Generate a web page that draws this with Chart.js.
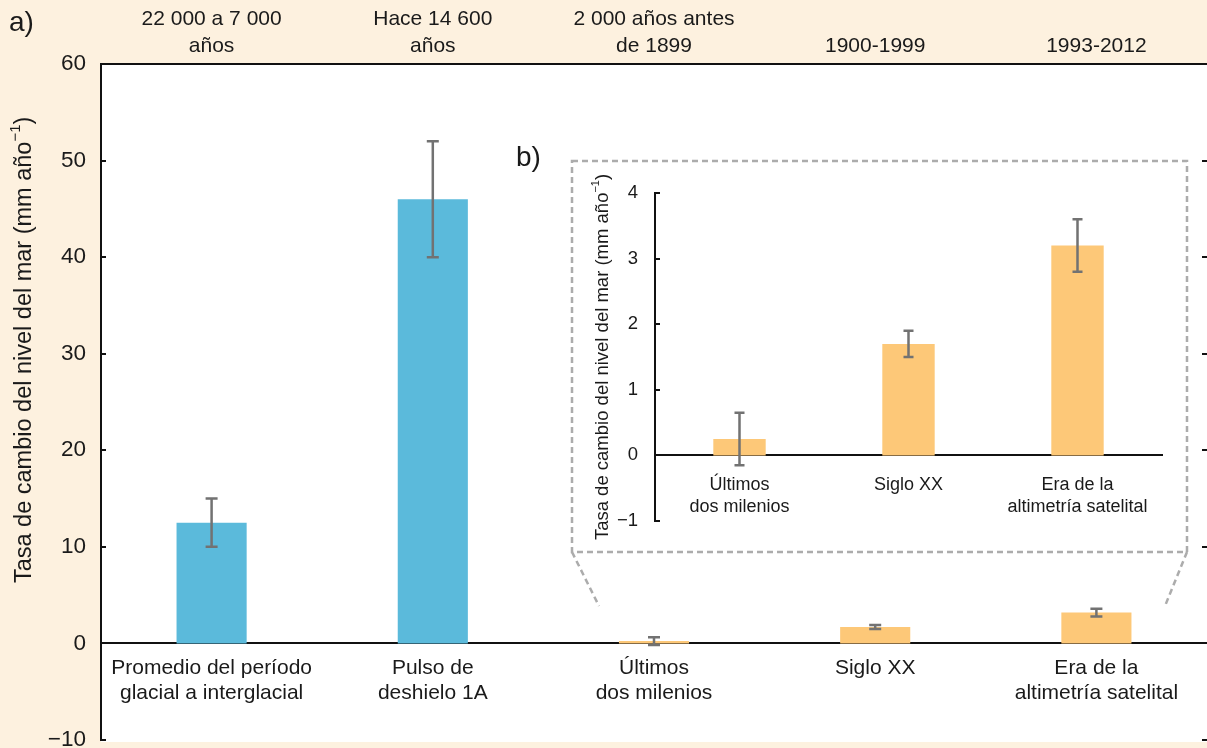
<!DOCTYPE html>
<html>
<head>
<meta charset="utf-8">
<script src="https://cdn.jsdelivr.net/npm/chart.js@4/dist/chart.umd.min.js"></script>
<style>
  html, body { margin: 0; padding: 0; background: #fdf1df; }
  #wrap { position: relative; width: 1207px; height: 748px; overflow: hidden; }
  canvas { position: absolute; }
</style>
</head>
<body>
<div id="wrap">
  <canvas id="main" width="1207" height="748" style="left:0;top:0"></canvas>
  <canvas id="inset"></canvas>
</div>
<script>
// data
const categories = [
  ['Promedio del período', 'glacial a interglacial'],
  ['Pulso de', 'deshielo 1A'],
  ['Últimos', 'dos milenios'],
  ['Siglo XX'],
  ['Era de la', 'altimetría satelital']
];
const periods = [
  ['22 000 a 7 000', 'años'],
  ['Hace 14 600', 'años'],
  ['2 000 años antes', 'de 1899'],
  ['1900-1999'],
  ['1993-2012']
];
const rates = [12.5, 46, 0.25, 1.7, 3.2];
const errLow = [10, 40, -0.15, 1.5, 2.8];
const errHigh = [15, 52, 0.65, 1.9, 3.6];
const barColors = ['#5bbadb', '#5bbadb', '#fdc878', '#fdc878', '#fdc878'];

const insetCategories = [['Últimos', 'dos milenios'], ['Siglo XX'], ['Era de la', 'altimetría satelital']];
const insetRates = [0.25, 1.7, 3.2];
const insetLow = [-0.15, 1.5, 2.8];
const insetHigh = [0.65, 1.9, 3.6];

const yTitle = 'Tasa de cambio del nivel del mar (mm año';
const ySup = '\u22121';

// inset box on the page
const INSET = { left: 571, top: 160, width: 617, height: 393 };

const FONT = '"Liberation Sans", Arial, Helvetica, sans-serif';
Chart.defaults.font.family = FONT;
Chart.defaults.color = '#1a1a1a';

const minus = v => String(v).replace('-', '\u2212');

function drawYTitle(ctx, x, cy, size) {
  ctx.save();
  ctx.translate(x, cy);
  ctx.rotate(-Math.PI / 2);
  ctx.fillStyle = '#1a1a1a';
  ctx.textBaseline = 'middle';
  ctx.textAlign = 'left';
  const big = size + 'px ' + FONT, small = Math.round(size * 0.62) + 'px ' + FONT;
  ctx.font = big;
  const w1 = ctx.measureText(yTitle).width, w3 = ctx.measureText(')').width;
  ctx.font = small;
  const w2 = ctx.measureText(ySup).width;
  let sx = -(w1 + w2 + w3) / 2;
  ctx.font = big;
  ctx.fillText(yTitle, sx, 0);
  ctx.font = small;
  ctx.fillText(ySup, sx + w1, -size * 0.38);
  ctx.font = big;
  ctx.fillText(')', sx + w1 + w2, 0);
  ctx.restore();
}

const whiteArea = {
  id: 'whiteArea',
  beforeDraw(chart, args, opts) {
    if (!opts.on) return;
    const a = chart.chartArea;
    chart.ctx.save();
    chart.ctx.fillStyle = '#ffffff';
    chart.ctx.fillRect(a.left, a.top, a.right - a.left, a.bottom - a.top + 2);
    chart.ctx.restore();
  }
};

const errorBars = {
  id: 'errorBars',
  afterDatasetsDraw(chart, args, opts) {
    const { ctx, scales: { x, y } } = chart;
    ctx.save();
    ctx.strokeStyle = '#727272';
    ctx.lineWidth = 2.5;
    opts.low.forEach((lo, i) => {
      const px = x.getPixelForValue(i);
      const y1 = y.getPixelForValue(lo), y2 = y.getPixelForValue(opts.high[i]);
      ctx.beginPath();
      ctx.moveTo(px, y1); ctx.lineTo(px, y2);
      ctx.moveTo(px - opts.cap, y1); ctx.lineTo(px + opts.cap, y1);
      ctx.moveTo(px - opts.cap, y2); ctx.lineTo(px + opts.cap, y2);
      ctx.stroke();
    });
    ctx.restore();
  }
};

const axisDeco = {
  id: 'axisDeco',
  afterDraw(chart, args, opts) {
    const { ctx, chartArea: a, scales: { y } } = chart;
    ctx.save();
    ctx.strokeStyle = '#111';
    ctx.lineWidth = 2;
    y.ticks.forEach(t => {
      const py = Math.round(y.getPixelForValue(t.value));
      ctx.beginPath();
      ctx.moveTo(a.left, py); ctx.lineTo(a.left + opts.len, py);
      if (opts.right) { ctx.moveTo(a.right - opts.len, py); ctx.lineTo(a.right, py); }
      ctx.stroke();
    });
    ctx.restore();
    const cy = opts.titleValue == null ? (a.top + a.bottom) / 2 : y.getPixelForValue(opts.titleValue);
    drawYTitle(ctx, opts.titleX, cy, opts.titleSize);
  }
};

const panelDeco = {
  id: 'panelDeco',
  afterDraw(chart) {
    const ctx = chart.ctx;
    ctx.save();
    ctx.fillStyle = '#1a1a1a';
    ctx.font = '28px ' + FONT;
    ctx.textBaseline = 'middle';
    ctx.fillText('a)', 9, 23);
    ctx.fillText('b)', 516, 158);
    // dashed inset frame and its pointers
    ctx.strokeStyle = '#acacac';
    ctx.lineWidth = 2.5;
    ctx.setLineDash([6, 4]);
    const l = INSET.left + 1, t = INSET.top + 1, r = INSET.left + INSET.width - 1, b = INSET.top + INSET.height - 1;
    ctx.strokeRect(l, t, r - l, b - t);
    ctx.beginPath();
    ctx.moveTo(l, b); ctx.lineTo(l + 27, b + 54);
    ctx.moveTo(r, b); ctx.lineTo(r - 22, b + 54);
    ctx.stroke();
    ctx.restore();
  }
};

new Chart(document.getElementById('main'), {
  type: 'bar',
  data: {
    labels: categories,
    datasets: [{ data: rates, backgroundColor: barColors, barPercentage: 0.317, categoryPercentage: 1 }]
  },
  options: {
    responsive: false,
    animation: false,
    devicePixelRatio: 1,
    layout: { padding: { top: 0, left: 0, right: 0, bottom: 8 } },
    plugins: {
      legend: { display: false },
      tooltip: { enabled: false },
      whiteArea: { on: true },
      errorBars: { low: errLow, high: errHigh, cap: 6 },
      axisDeco: { len: 5, right: true, titleX: 25, titleValue: 30.4, titleSize: 23.5 }
    },
    scales: {
      x: {
        position: { y: 0 },
        offset: true,
        grid: { display: false },
        border: { color: '#111', width: 2 },
        ticks: { font: { size: 21, lineHeight: 1.2 }, padding: 4, maxRotation: 0, minRotation: 0, autoSkip: false },
        afterFit: s => { s.paddingLeft = 0; s.paddingRight = 0; }
      },
      xTop: {
        axis: 'x',
        type: 'category',
        labels: periods,
        position: 'top',
        offset: true,
        grid: { display: false },
        border: { color: '#111', width: 2 },
        ticks: { font: { size: 21, lineHeight: 1.3 }, padding: -4, maxRotation: 0, minRotation: 0, autoSkip: false },
        afterFit: s => { s.height = 64; s.paddingLeft = 0; s.paddingRight = 0; }
      },
      y: {
        min: -10,
        max: 60,
        grid: { display: false },
        border: { color: '#111', width: 2 },
        ticks: { stepSize: 10, font: { size: 22.5 }, padding: 7, callback: minus },
        afterFit: s => { s.width = 101; s.paddingTop = 0; s.paddingBottom = 0; }
      }
    }
  },
  plugins: [whiteArea, errorBars, axisDeco, panelDeco]
});

const insetCanvas = document.getElementById('inset');
insetCanvas.width = INSET.width;
insetCanvas.height = INSET.height;
insetCanvas.style.left = INSET.left + 'px';
insetCanvas.style.top = INSET.top + 'px';

new Chart(insetCanvas, {
  type: 'bar',
  data: {
    labels: insetCategories,
    datasets: [{ data: insetRates, backgroundColor: '#fdc878', barPercentage: 0.31, categoryPercentage: 1 }]
  },
  options: {
    responsive: false,
    animation: false,
    devicePixelRatio: 1,
    layout: { padding: { top: 33, left: 0, right: 26, bottom: 32 } },
    plugins: {
      legend: { display: false },
      tooltip: { enabled: false },
      whiteArea: { on: false },
      errorBars: { low: insetLow, high: insetHigh, cap: 5 },
      axisDeco: { len: 5, right: false, titleX: 32, titleValue: null, titleSize: 18.5 }
    },
    scales: {
      x: {
        position: { y: 0 },
        offset: true,
        grid: { display: false },
        border: { color: '#111', width: 2 },
        ticks: { font: { size: 18, lineHeight: 1.25 }, padding: 10, maxRotation: 0, minRotation: 0, autoSkip: false },
        afterFit: s => { s.paddingLeft = 0; s.paddingRight = 0; }
      },
      y: {
        min: -1,
        max: 4,
        grid: { display: false },
        border: { color: '#111', width: 2 },
        ticks: { stepSize: 1, font: { size: 18.5 }, padding: 9, callback: minus },
        afterFit: s => { s.width = 84; s.paddingTop = 0; s.paddingBottom = 0; }
      }
    }
  },
  plugins: [errorBars, axisDeco]
});
</script>
</body>
</html>
